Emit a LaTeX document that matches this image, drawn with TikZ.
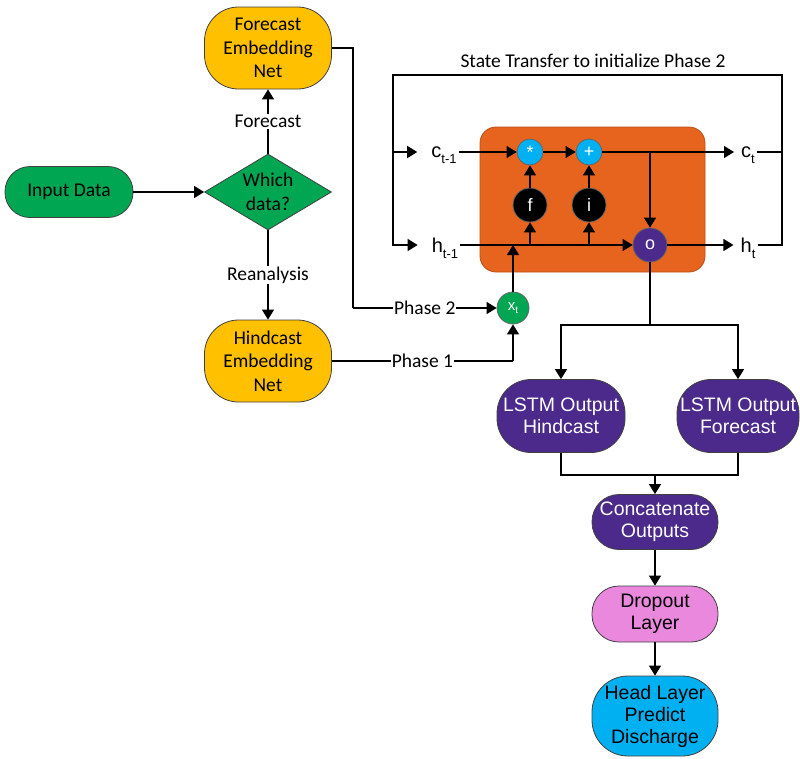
\documentclass[tikz,border=0pt]{standalone}
\usepackage{fontspec}
\setmainfont{Carlito}
\newfontfamily\arialfont{Liberation Sans}
\usetikzlibrary{shapes.geometric,arrows.meta}

\definecolor{flowgreen}{RGB}{0,166,81}
\definecolor{embyellow}{RGB}{255,192,0}
\definecolor{cellorange}{RGB}{230,100,30}
\definecolor{outpurple}{RGB}{75,42,140}
\definecolor{gatecyan}{RGB}{0,176,240}
\definecolor{droppink}{RGB}{234,136,221}

\begin{document}
\begin{tikzpicture}[x=1pt,y=-1pt,
    wire/.style={line width=1.3pt,draw=black},
    arr/.style={wire,-{Triangle[length=10pt,width=12pt]}},
    calfont/.style={font=\fontsize{19.5}{23.5}\selectfont},
    arfont/.style={font=\arialfont\fontsize{19.5}{22}\selectfont},
    stadium/.style={draw=black!75,line width=0.8pt,rounded corners=25pt,
      inner sep=0pt,align=center,minimum width=127pt},
    embbox/.style={stadium,calfont,fill=embyellow,minimum height=82pt,rounded corners=34pt},
    outbox/.style={stadium,arfont,fill=outpurple,text=white},
    lbl/.style={calfont,fill=white,inner sep=1pt},
    gate/.style={circle,draw=black!60,line width=0.8pt,inner sep=0pt,
      font=\arialfont\fontsize{18}{18}\selectfont,text=white},
    statelbl/.style={font=\arialfont\fontsize{20}{22}\selectfont,inner sep=2pt,anchor=base}]

  \useasboundingbox (0,0) rectangle (800,758);

  % left part: data choice
  \node[stadium,calfont,fill=flowgreen,minimum height=51pt,minimum width=128pt] (indata) at (69,192) {Input Data};
  \node[diamond,draw=black!75,line width=0.8pt,fill=flowgreen,calfont,align=center,
    aspect=1.67,minimum width=127pt,minimum height=76pt,inner sep=-4pt] (which) at (268,192) {Which\\data?};
  \node[embbox] (fcemb) at (268,48) {Forecast\\Embedding\\Net};
  \node[embbox] (hcemb) at (268,361) {Hindcast\\Embedding\\Net};

  \draw[arr] (indata) -- (which);
  \draw[arr] (which) -- node[lbl] {Forecast} (fcemb);
  \draw[arr] (which) -- node[lbl] {Reanalysis} (hcemb);

  % input x_t
  \node[gate,fill=flowgreen,minimum size=32pt,font=\arialfont\fontsize{15}{15}\selectfont] (xt) at (513,308)
    {x\raisebox{-3pt}{\fontsize{10}{10}\selectfont t}};
  \coordinate (bend) at (353,308);
  \draw[wire] (fcemb.east) -| (bend);
  \draw[arr] (bend) -- node[lbl] {Phase 2} (xt);
  \draw[wire] (hcemb.east) -- node[lbl] {Phase 1} (hcemb.east -| xt);
  \draw[arr] (hcemb.east -| xt) -- (xt);

  % LSTM cell
  \node[draw=cellorange!80!black,line width=0.8pt,fill=cellorange,rounded corners=16pt,
    minimum width=225pt,minimum height=145pt] (cell) at (592.5,199.5) {};
  \node[statelbl] (cprev) at (444,157) {c\raisebox{-6pt}{\fontsize{13}{13}\selectfont t-1}};
  \node[statelbl] (hprev) at (445,252) {h\raisebox{-6pt}{\fontsize{13}{13}\selectfont t-1}};
  \node[statelbl] (ct) at (748,157) {c\raisebox{-6pt}{\fontsize{13}{13}\selectfont t}};
  \node[statelbl] (ht) at (748,252) {h\raisebox{-6pt}{\fontsize{13}{13}\selectfont t}};

  \node[gate,fill=gatecyan,minimum size=26pt] (mult) at (530,152) {*};
  \node[gate,fill=gatecyan,minimum size=26pt] (add) at (589,152) {+};
  \node[gate,fill=black,minimum size=34pt] (fg) at (530,205) {f};
  \node[gate,fill=black,minimum size=34pt] (ig) at (589,205) {i};
  \node[gate,fill=outpurple,minimum size=34pt] (og) at (650,245) {o};

  \draw[arr] (cprev.east |- mult) -- (mult);
  \draw[arr] (mult) -- (add);
  \draw[arr,shorten >=5pt] (add) -- (ct.west |- add);
  \draw[arr] (add -| og) -- (og);
  \draw[arr] (hprev.east |- og) -- (og);
  \draw[arr] (fg |- og) -- (fg);
  \draw[arr] (ig |- og) -- (ig);
  \draw[arr] (fg) -- (mult);
  \draw[arr] (ig) -- (add);
  \draw[arr,shorten >=5pt] (og) -- (ht.west |- og);
  \draw[arr] (xt) -- (xt |- og);

  % state transfer loop
  \coordinate (loopL) at (393,75);
  \coordinate (loopR) at (782,75);
  \draw[wire] (ct.east |- add) -| (loopR);
  \draw[arr,shorten >=12pt] (ht.east |- og) -| (loopR) -- (loopL) |- (hprev.west |- og);
  \draw[arr,shorten >=12pt] (loopL |- add) -- (cprev.west |- add);
  \node[calfont,inner sep=2pt] (transfer) at (593,61) {State Transfer to initialize Phase 2};

  % outputs
  \node[outbox,minimum height=73pt,minimum width=128pt,rounded corners=34pt] (lstmh) at (561,416) {LSTM Output\\Hindcast};
  \node[outbox,minimum height=73pt,minimum width=122pt,rounded corners=34pt] (lstmf) at (738,416) {LSTM Output\\Forecast};
  \node[outbox,minimum height=55pt,minimum width=126pt,rounded corners=27pt] (concat) at (655,522) {Concatenate\\Outputs};
  \node[stadium,arfont,fill=droppink,minimum height=56pt,minimum width=126pt,rounded corners=27pt] (dropout) at (655,614) {Dropout\\Layer};
  \node[stadium,arfont,fill=gatecyan,minimum height=80pt,minimum width=126pt,rounded corners=36pt] (head) at (655,716) {Head Layer\\Predict\\Discharge};

  \coordinate (split) at (650,325);
  \coordinate (join) at (655,475);
  \draw[wire] (og) -- (split);
  \draw[arr] (split) -| (lstmh);
  \draw[arr] (split) -| (lstmf);
  \draw[wire] (lstmh) |- (join);
  \draw[wire] (lstmf) |- (join);
  \draw[arr] (join) -- (concat);
  \draw[arr] (concat) -- (dropout);
  \draw[arr] (dropout) -- (head);
\end{tikzpicture}
\end{document}
